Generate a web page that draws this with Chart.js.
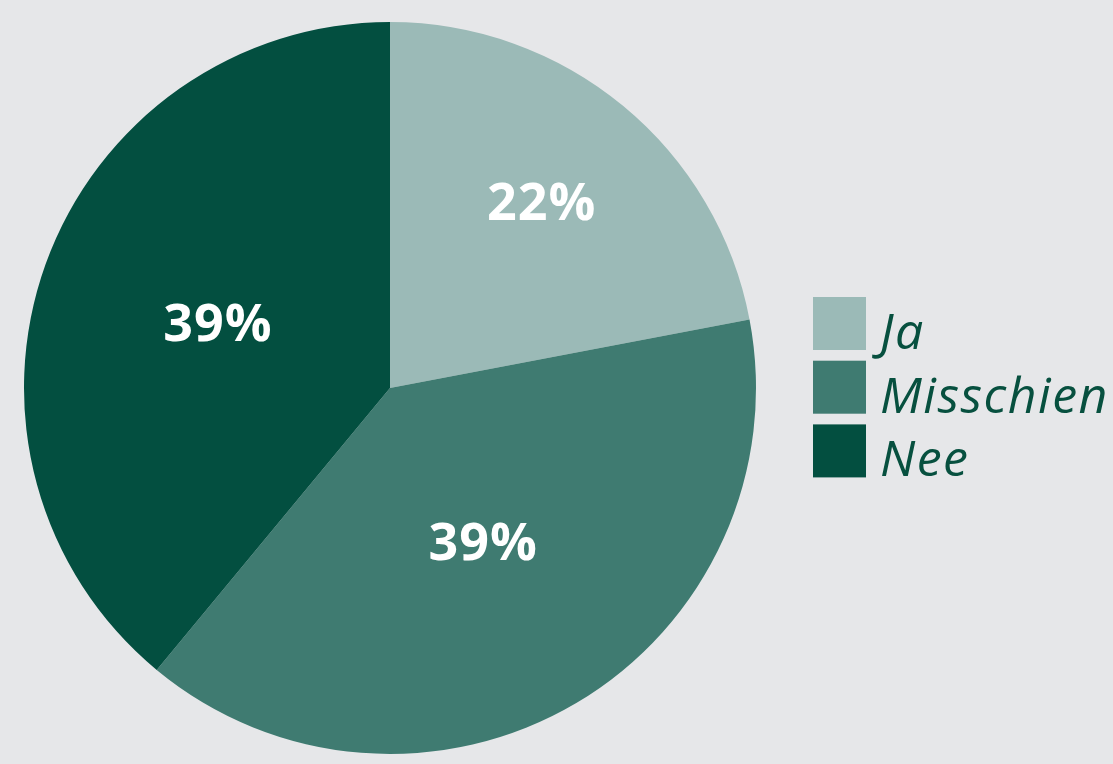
<!DOCTYPE html>
<html>
<head>
<meta charset="utf-8">
<script src="https://cdn.jsdelivr.net/npm/chart.js@4"></script>
<style>
  html, body { margin: 0; padding: 0; background: #e6e7e9; }
  #wrap { width: 1113px; height: 764px; }
</style>
</head>
<body>
<div id="wrap"><canvas id="pieChart"></canvas></div>
<script>
// data
const labels = ['Ja', 'Misschien', 'Nee'];
const values = [22, 39, 39];
const colors = ['#9bbab7', '#3f7b71', '#034f40'];

// percentage labels inside the slices
const sliceLabels = {
  id: 'sliceLabels',
  afterDatasetsDraw(chart, args, opts) {
    const ctx = chart.ctx;
    const meta = chart.getDatasetMeta(0);
    const total = values.reduce((a, b) => a + b, 0);
    ctx.save();
    ctx.fillStyle = '#ffffff';
    ctx.font = 'bold 52px "Open Sans", sans-serif';
    ctx.letterSpacing = '1px';
    ctx.textAlign = 'center';
    ctx.textBaseline = 'middle';
    meta.data.forEach((arc, i) => {
      const mid = (arc.startAngle + arc.endAngle) / 2;
      const r = arc.outerRadius * opts.dist[i];
      const x = arc.x + Math.cos(mid) * r;
      const y = arc.y + Math.sin(mid) * r;
      ctx.fillText(Math.round(values[i] / total * 100) + '%', x, y);
    });
    ctx.restore();
  }
};

// legend drawn at the right
const sideLegend = {
  id: 'sideLegend',
  afterDraw(chart, args, opts) {
    const ctx = chart.ctx;
    ctx.save();
    ctx.font = 'italic 50px "Open Sans", sans-serif';
    ctx.letterSpacing = '1.5px';
    ctx.textBaseline = 'alphabetic';
    ctx.textAlign = 'left';
    labels.forEach((lab, i) => {
      const y = opts.top + i * opts.step;
      ctx.fillStyle = colors[i];
      ctx.fillRect(opts.left, y, opts.box, opts.box);
      ctx.fillStyle = '#07503f';
      ctx.fillText(lab, opts.left + opts.box + 14, y + opts.box - 1);
    });
    ctx.restore();
  }
};

new Chart(document.getElementById('pieChart'), {
  type: 'pie',
  data: {
    labels: labels,
    datasets: [{
      data: values,
      backgroundColor: colors,
      borderWidth: 0
    }]
  },
  options: {
    responsive: true,
    maintainAspectRatio: false,
    animation: false,
    layout: { padding: { top: 22, bottom: 10, left: 24, right: 357 } },
    plugins: {
      legend: { display: false },
      tooltip: { enabled: false },
      sliceLabels: { dist: [0.65, 0.5, 0.5] },
      sideLegend: { left: 813, top: 297, step: 63.7, box: 53 }
    }
  },
  plugins: [sliceLabels, sideLegend]
});
</script>
</body>
</html>
